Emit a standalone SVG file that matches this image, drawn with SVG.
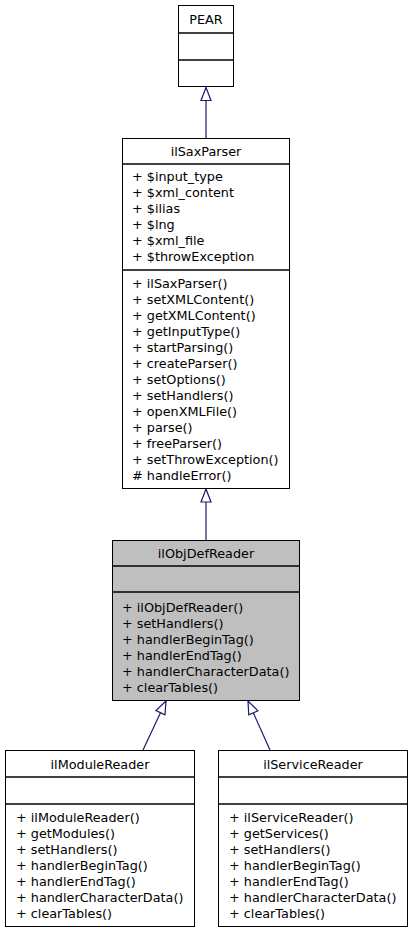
<svg xmlns="http://www.w3.org/2000/svg" width="413" height="933" viewBox="0 0 413 933">
<style>
text{font-family:"DejaVu Sans",sans-serif;font-size:12.8px;fill:#000}
.t{text-anchor:middle}
.box{fill:#fff;stroke:#000;stroke-width:1}
.cur{fill:#bfbfbf;stroke:#000;stroke-width:1}
.div{stroke:#000;stroke-width:1.3}
.edge{fill:none;stroke:#191970;stroke-width:1.2}
</style>
<defs>
<marker id="ah" markerUnits="userSpaceOnUse" markerWidth="16" markerHeight="14" viewBox="-15 -7 16 14" refX="0" refY="0" orient="auto">
<path d="M0,0 L-13,-5 L-13,5 Z" fill="#fff" stroke="#191970" stroke-width="1.2"/>
</marker>
</defs>
<rect width="413" height="933" fill="#fff"/>
<g id="connectors">
<path class="edge" d="M206,138 L206,87.5" marker-end="url(#ah)"/>
<path class="edge" d="M206,540 L206,489" marker-end="url(#ah)"/>
<path class="edge" d="M143,750 L166,701" marker-end="url(#ah)"/>
<path class="edge" d="M270,750 L248,701" marker-end="url(#ah)"/>
</g>
<g id="PEAR">
<rect class="box" x="178.5" y="5.5" width="55" height="81"/>
<line class="div" x1="178.5" y1="33" x2="233.5" y2="33"/>
<line class="div" x1="178.5" y1="60" x2="233.5" y2="60"/>
<text class="t" x="206" y="24">PEAR</text>
</g>
<g id="ilSaxParser">
<rect class="box" x="122.5" y="138.5" width="167" height="350"/>
<line class="div" x1="122.5" y1="164" x2="289.5" y2="164"/>
<line class="div" x1="122.5" y1="270" x2="289.5" y2="270"/>
<text class="t" x="206" y="155.5">ilSaxParser</text>
<text x="132" y="180.5">+ $input_type</text>
<text x="132" y="196.5">+ $xml_content</text>
<text x="132" y="212.5">+ $ilias</text>
<text x="132" y="228.5">+ $lng</text>
<text x="132" y="244.5">+ $xml_file</text>
<text x="132" y="260.5">+ $throwException</text>
<text x="132" y="288">+ ilSaxParser()</text>
<text x="132" y="304">+ setXMLContent()</text>
<text x="132" y="320">+ getXMLContent()</text>
<text x="132" y="336">+ getInputType()</text>
<text x="132" y="352">+ startParsing()</text>
<text x="132" y="368">+ createParser()</text>
<text x="132" y="384">+ setOptions()</text>
<text x="132" y="400">+ setHandlers()</text>
<text x="132" y="416">+ openXMLFile()</text>
<text x="132" y="432">+ parse()</text>
<text x="132" y="448">+ freeParser()</text>
<text x="132" y="464">+ setThrowException()</text>
<text x="132" y="480"># handleError()</text>
</g>
<g id="ilObjDefReader">
<rect class="cur" x="112.5" y="540.5" width="187" height="160"/>
<line class="div" x1="112.5" y1="566" x2="299.5" y2="566"/>
<line class="div" x1="112.5" y1="592" x2="299.5" y2="592"/>
<text class="t" x="206" y="557.5">ilObjDefReader</text>
<text x="122" y="611.5">+ ilObjDefReader()</text>
<text x="122" y="627.5">+ setHandlers()</text>
<text x="122" y="643.5">+ handlerBeginTag()</text>
<text x="122" y="659.5">+ handlerEndTag()</text>
<text x="122" y="675.5">+ handlerCharacterData()</text>
<text x="122" y="691.5">+ clearTables()</text>
</g>
<g id="ilModuleReader">
<rect class="box" x="5.5" y="750.5" width="189" height="176"/>
<line class="div" x1="5.5" y1="777" x2="194.5" y2="777"/>
<line class="div" x1="5.5" y1="804" x2="194.5" y2="804"/>
<text class="t" x="100" y="768.5">ilModuleReader</text>
<text x="16" y="821.5">+ ilModuleReader()</text>
<text x="16" y="837.5">+ getModules()</text>
<text x="16" y="853.5">+ setHandlers()</text>
<text x="16" y="869.5">+ handlerBeginTag()</text>
<text x="16" y="885.5">+ handlerEndTag()</text>
<text x="16" y="901.5">+ handlerCharacterData()</text>
<text x="16" y="917.5">+ clearTables()</text>
</g>
<g id="ilServiceReader">
<rect class="box" x="218.5" y="750.5" width="189" height="176"/>
<line class="div" x1="218.5" y1="777" x2="407.5" y2="777"/>
<line class="div" x1="218.5" y1="804" x2="407.5" y2="804"/>
<text class="t" x="313" y="768.5">ilServiceReader</text>
<text x="229" y="821.5">+ ilServiceReader()</text>
<text x="229" y="837.5">+ getServices()</text>
<text x="229" y="853.5">+ setHandlers()</text>
<text x="229" y="869.5">+ handlerBeginTag()</text>
<text x="229" y="885.5">+ handlerEndTag()</text>
<text x="229" y="901.5">+ handlerCharacterData()</text>
<text x="229" y="917.5">+ clearTables()</text>
</g>
</svg>
